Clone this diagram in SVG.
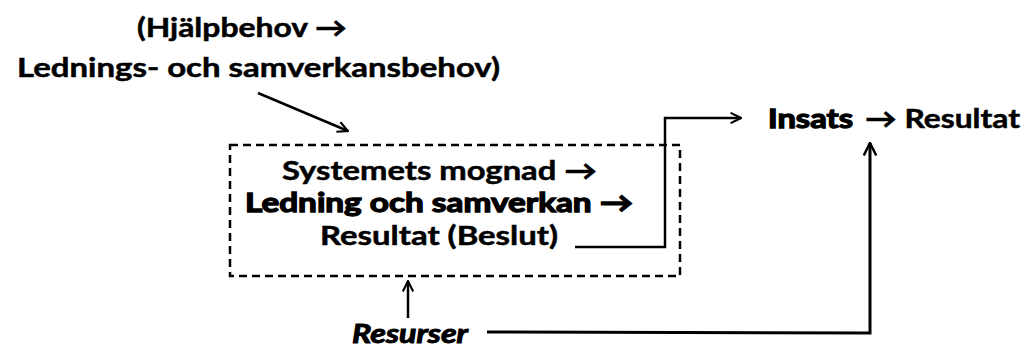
<svg xmlns="http://www.w3.org/2000/svg" width="1026" height="347" viewBox="0 0 1026 347">
  <style>
    text { font-family: Lato, "Open Sans", "Liberation Sans", sans-serif; font-size: 27px; font-weight: 700; fill: #000; stroke: #000; stroke-width: 0.5; }
    .heavy { stroke-width: 1.3; }
    .ital { font-style: italic; stroke-width: 1; }
    .wire { fill: none; stroke: #000; stroke-width: 3; }
    .thin { fill: none; stroke: #000; stroke-width: 2.5; }
    .box { fill: none; stroke: #000; stroke-width: 2.5; stroke-dasharray: 8 5; }
  </style>
  <defs>
    <marker id="open" viewBox="0 0 12 12" refX="11" refY="6" markerWidth="5" markerHeight="5" orient="auto" markerUnits="strokeWidth">
      <path d="M1,1 L11,6 L1,11" fill="none" stroke="#000" stroke-width="2"/>
    </marker>
  </defs>

  <g id="needs">
    <text x="137" y="37" textLength="210" lengthAdjust="spacingAndGlyphs">(Hjälpbehov →</text>
    <text x="17" y="77" textLength="483" lengthAdjust="spacingAndGlyphs">Lednings- och samverkansbehov)</text>
  </g>

  <g id="system">
    <rect class="box" x="230" y="145" width="450" height="131"/>
    <text x="282" y="180" textLength="315" lengthAdjust="spacingAndGlyphs">Systemets mognad →</text>
    <text class="heavy" x="245" y="212" textLength="388" lengthAdjust="spacingAndGlyphs">Ledning och samverkan →</text>
    <text x="320" y="245" textLength="238" lengthAdjust="spacingAndGlyphs">Resultat (Beslut)</text>
  </g>

  <g id="outcome">
    <text class="heavy" x="768" y="128" textLength="85" lengthAdjust="spacingAndGlyphs">Insats</text>
    <text x="865" y="128" textLength="155" lengthAdjust="spacingAndGlyphs">→ Resultat</text>
  </g>

  <g id="resources">
    <text class="ital" x="352" y="343" textLength="116" lengthAdjust="spacingAndGlyphs">Resurser</text>
  </g>

  <g id="connectors">
    <line class="thin" x1="258" y1="93" x2="348" y2="131" marker-end="url(#open)"/>
    <polyline class="thin" points="575,247 665,247 665,118 741,118" marker-end="url(#open)"/>
    <line class="thin" x1="408" y1="318" x2="408" y2="281" marker-end="url(#open)"/>
    <polyline class="wire" points="487,332 870,333 870,143" marker-end="url(#open)"/>
  </g>
</svg>
